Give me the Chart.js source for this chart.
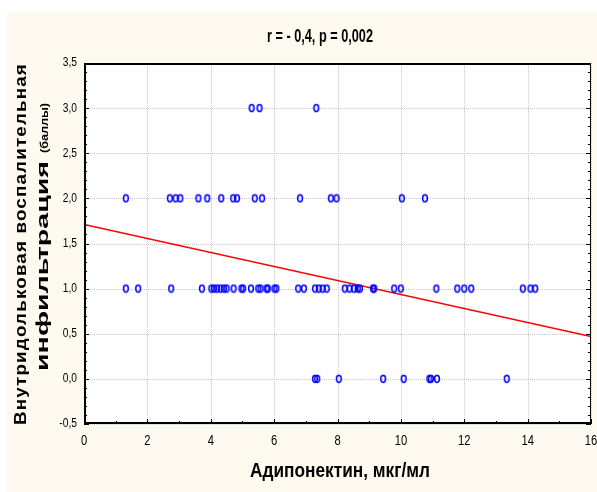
<!DOCTYPE html>
<html>
<head>
<meta charset="utf-8">
<script src="https://cdn.jsdelivr.net/npm/chart.js@4.4.1/dist/chart.umd.min.js"></script>
<style>
  html, body { margin: 0; padding: 0; background: #ffffff; }
  #wrap { width: 597px; height: 492px; position: relative; }
</style>
</head>
<body>
<div id="wrap"><canvas id="c" width="597" height="492"></canvas></div>
<script>
// ---- Data ----
const chartTitle = 'r = - 0,4, p = 0,002';
const xAxisTitle = 'Адипонектин, мкг/мл';
const yAxisTitleLine1 = 'Внутридольковая воспалительная';
const yAxisTitleLine2a = 'инфильтрация ';
const yAxisTitleLine2b = '(баллы)';

// adiponectin values grouped by infiltration score
const score0 = [7.29, 7.36, 8.04, 9.44, 10.09, 10.90, 10.95, 11.14, 13.34];
const score1 = [1.32, 1.71, 2.75, 3.72, 4.02, 4.10, 4.20, 4.31, 4.42, 4.50, 4.72, 4.97, 5.02, 5.27,
                5.50, 5.57, 5.76, 5.80, 6.01, 6.07, 6.76, 6.94, 7.29, 7.41, 7.53, 7.66, 8.23, 8.38,
                8.52, 8.64, 8.71, 9.12, 9.16, 9.79, 10.00, 11.12, 11.78, 12.00, 12.22, 13.85, 14.09, 14.24];
const score2 = [1.32, 2.71, 2.89, 3.04, 3.61, 3.89, 4.33, 4.71, 4.83, 5.39, 5.62, 6.82, 7.79, 7.97, 10.03, 10.76];
const score3 = [5.29, 5.54, 7.33];

// regression line endpoints
const regX = [0, 16];
const regY = [1.71, 0.47];

const xTickLabels = ['0', '2', '4', '6', '8', '10', '12', '14', '16'];
const yTickLabels = ['-0,5', '0,0', '0,5', '1,0', '1,5', '2,0', '2,5', '3,0', '3,5'];

// ---- build ----
const num = l => parseFloat(l.replace(',', '.'));
function toPts(xs, y) { return xs.map(x => ({ x: x, y: y })); }

function makeMarker() {
  const c = document.createElement('canvas');
  c.width = 8; c.height = 10;
  const g = c.getContext('2d');
  g.strokeStyle = '#0000ff';
  g.lineWidth = 1.5;
  g.beginPath();
  g.ellipse(4, 5, 2.4, 3.4, 0, 0, Math.PI * 2);
  g.stroke();
  return c;
}
const marker = makeMarker();

const SANS = '"Liberation Sans", Arial, sans-serif';

// draw text horizontally condensed/stretched (sx) – mimics Arial Narrow
function drawText(ctx, text, x, y, font, sx, align, baseline) {
  ctx.save();
  ctx.font = font;
  ctx.textBaseline = baseline || 'middle';
  ctx.textAlign = 'left';
  const w = ctx.measureText(text).width * sx;
  let x0 = x;
  if (align === 'center') x0 = x - w / 2;
  else if (align === 'right') x0 = x - w;
  ctx.translate(x0, y);
  ctx.scale(sx, 1);
  ctx.fillText(text, 0, 0);
  ctx.restore();
}
function drawTextToWidth(ctx, text, x, y, font, width, align) {
  ctx.save();
  ctx.font = font;
  const w = ctx.measureText(text).width;
  ctx.restore();
  drawText(ctx, text, x, y, font, width / w, align);
}

const bgPlugin = {
  id: 'bgPlugin',
  beforeDraw(chart) {
    const ctx = chart.ctx, a = chart.chartArea;
    ctx.save();
    ctx.fillStyle = '#ffffff';
    ctx.fillRect(0, 0, chart.width, chart.height);
    ctx.fillStyle = '#fefaef';
    ctx.fillRect(7, 12, chart.width - 7, chart.height - 12);
    ctx.fillStyle = '#ffffff';
    ctx.fillRect(a.left, a.top, a.right - a.left, a.bottom - a.top);
    ctx.restore();
  },
  beforeDatasetsDraw(chart) {
    const ctx = chart.ctx, a = chart.chartArea;
    const xs = chart.scales.x, ys = chart.scales.y;
    ctx.save();
    ctx.strokeStyle = '#c8c8c8';
    ctx.lineWidth = 1;
    ctx.setLineDash([1, 1]);
    xTickLabels.forEach(l => {
      const px = Math.round(xs.getPixelForValue(num(l))) + 0.5;
      ctx.beginPath(); ctx.moveTo(px, a.top); ctx.lineTo(px, a.bottom); ctx.stroke();
    });
    yTickLabels.forEach(l => {
      const py = Math.round(ys.getPixelForValue(num(l))) + 0.5;
      ctx.beginPath(); ctx.moveTo(a.left, py); ctx.lineTo(a.right, py); ctx.stroke();
    });
    ctx.setLineDash([]);
    // ticks (inward)
    ctx.strokeStyle = '#000000';
    ctx.lineWidth = 1;
    for (let i = -5; i <= 35; i++) {
      const py = Math.round(ys.getPixelForValue(i / 10)) + 0.5;
      const len = (i % 5 === 0) ? 5 : 3;
      ctx.beginPath(); ctx.moveTo(a.left, py); ctx.lineTo(a.left + len, py); ctx.stroke();
      ctx.beginPath(); ctx.moveTo(a.right, py); ctx.lineTo(a.right - len, py); ctx.stroke();
    }
    for (let i = 0; i <= 16; i++) {
      const px = Math.round(xs.getPixelForValue(i)) + 0.5;
      const len = (i % 2 === 0) ? 5 : 3;
      ctx.beginPath(); ctx.moveTo(px, a.bottom); ctx.lineTo(px, a.bottom - len); ctx.stroke();
    }
    ctx.restore();
  },
  afterDraw(chart) {
    const ctx = chart.ctx, a = chart.chartArea;
    const xs = chart.scales.x, ys = chart.scales.y;
    ctx.save();
    // frame
    ctx.strokeStyle = '#000000';
    ctx.lineWidth = 1;
    ctx.strokeRect(a.left + 0.5, a.top + 0.5, a.right - a.left - 1, a.bottom - a.top - 1);
    ctx.lineWidth = 2;
    ctx.beginPath();
    ctx.moveTo(a.left + 1, a.top); ctx.lineTo(a.left + 1, a.bottom - 1); ctx.lineTo(a.right, a.bottom - 1);
    ctx.stroke();
    ctx.beginPath(); ctx.moveTo(a.left, a.top + 1); ctx.lineTo(a.right, a.top + 1); ctx.stroke();

    ctx.fillStyle = '#000000';
    // tick labels (narrow look)
    yTickLabels.forEach(l => {
      const py = ys.getPixelForValue(num(l));
      drawText(ctx, l, a.left - 7, py, '12.5px ' + SANS, 0.82, 'right');
    });
    xTickLabels.forEach(l => {
      const px = xs.getPixelForValue(num(l));
      drawText(ctx, l, px, a.bottom + 17, '14px ' + SANS, 0.8, 'center');
    });

    // title
    drawTextToWidth(ctx, chartTitle, 320, 37, 'bold 18px ' + SANS, 106, 'center');
    // x title
    drawTextToWidth(ctx, xAxisTitle, 340, 471, 'bold 20px ' + SANS, 180, 'center');

    // y title line 1 (rotated)
    ctx.save();
    ctx.translate(22, 244);
    ctx.rotate(-Math.PI / 2);
    ctx.letterSpacing = '1px';
    drawTextToWidth(ctx, yAxisTitleLine1, 0, 0, 'bold 16px ' + SANS, 362, 'center');
    ctx.restore();

    // y title line 2 (mixed sizes)
    ctx.save();
    ctx.translate(44, 237);
    ctx.rotate(-Math.PI / 2);
    const targetA = 218, targetB = 50;
    const total = targetA + targetB;
    drawTextToWidth(ctx, yAxisTitleLine2a, -total / 2, 0, 'bold 16px ' + SANS, targetA, 'left');
    drawTextToWidth(ctx, yAxisTitleLine2b, -total / 2 + targetA, 1, 'bold 11px ' + SANS, targetB, 'left');
    ctx.restore();

    ctx.restore();
  }
};

const pointDs = (data) => ({
  type: 'scatter',
  data: data,
  pointStyle: marker,
  pointRadius: 4,
  pointHoverRadius: 4,
  showLine: false
});

new Chart(document.getElementById('c'), {
  type: 'scatter',
  data: {
    datasets: [
      pointDs(toPts(score0, 0)),
      pointDs(toPts(score1, 1)),
      pointDs(toPts(score2, 2)),
      pointDs(toPts(score3, 3)),
      {
        type: 'line',
        data: regX.map((x, i) => ({ x: x, y: regY[i] })),
        borderColor: '#ff0000',
        borderWidth: 1.6,
        pointRadius: 0,
        fill: false,
        tension: 0
      }
    ]
  },
  options: {
    responsive: false,
    animation: false,
    devicePixelRatio: 1,
    layout: { padding: { left: 0, right: 6, top: 63, bottom: 0 } },
    plugins: { legend: { display: false }, tooltip: { enabled: false }, title: { display: false } },
    scales: {
      x: {
        type: 'linear',
        min: 0, max: 16,
        afterFit(s) { s.height = 68; s.paddingLeft = 0; s.paddingRight = 0; },
        afterBuildTicks(s) { s.ticks = xTickLabels.map(l => ({ value: num(l) })); },
        grid: { display: false, drawTicks: false },
        border: { display: false },
        ticks: { display: false }
      },
      y: {
        type: 'linear',
        min: -0.5, max: 3.5,
        afterFit(s) { s.width = 84; s.paddingTop = 0; s.paddingBottom = 0; },
        afterBuildTicks(s) { s.ticks = yTickLabels.map(l => ({ value: num(l) })); },
        grid: { display: false, drawTicks: false },
        border: { display: false },
        ticks: { display: false }
      }
    }
  },
  plugins: [bgPlugin]
});
</script>
</body>
</html>
